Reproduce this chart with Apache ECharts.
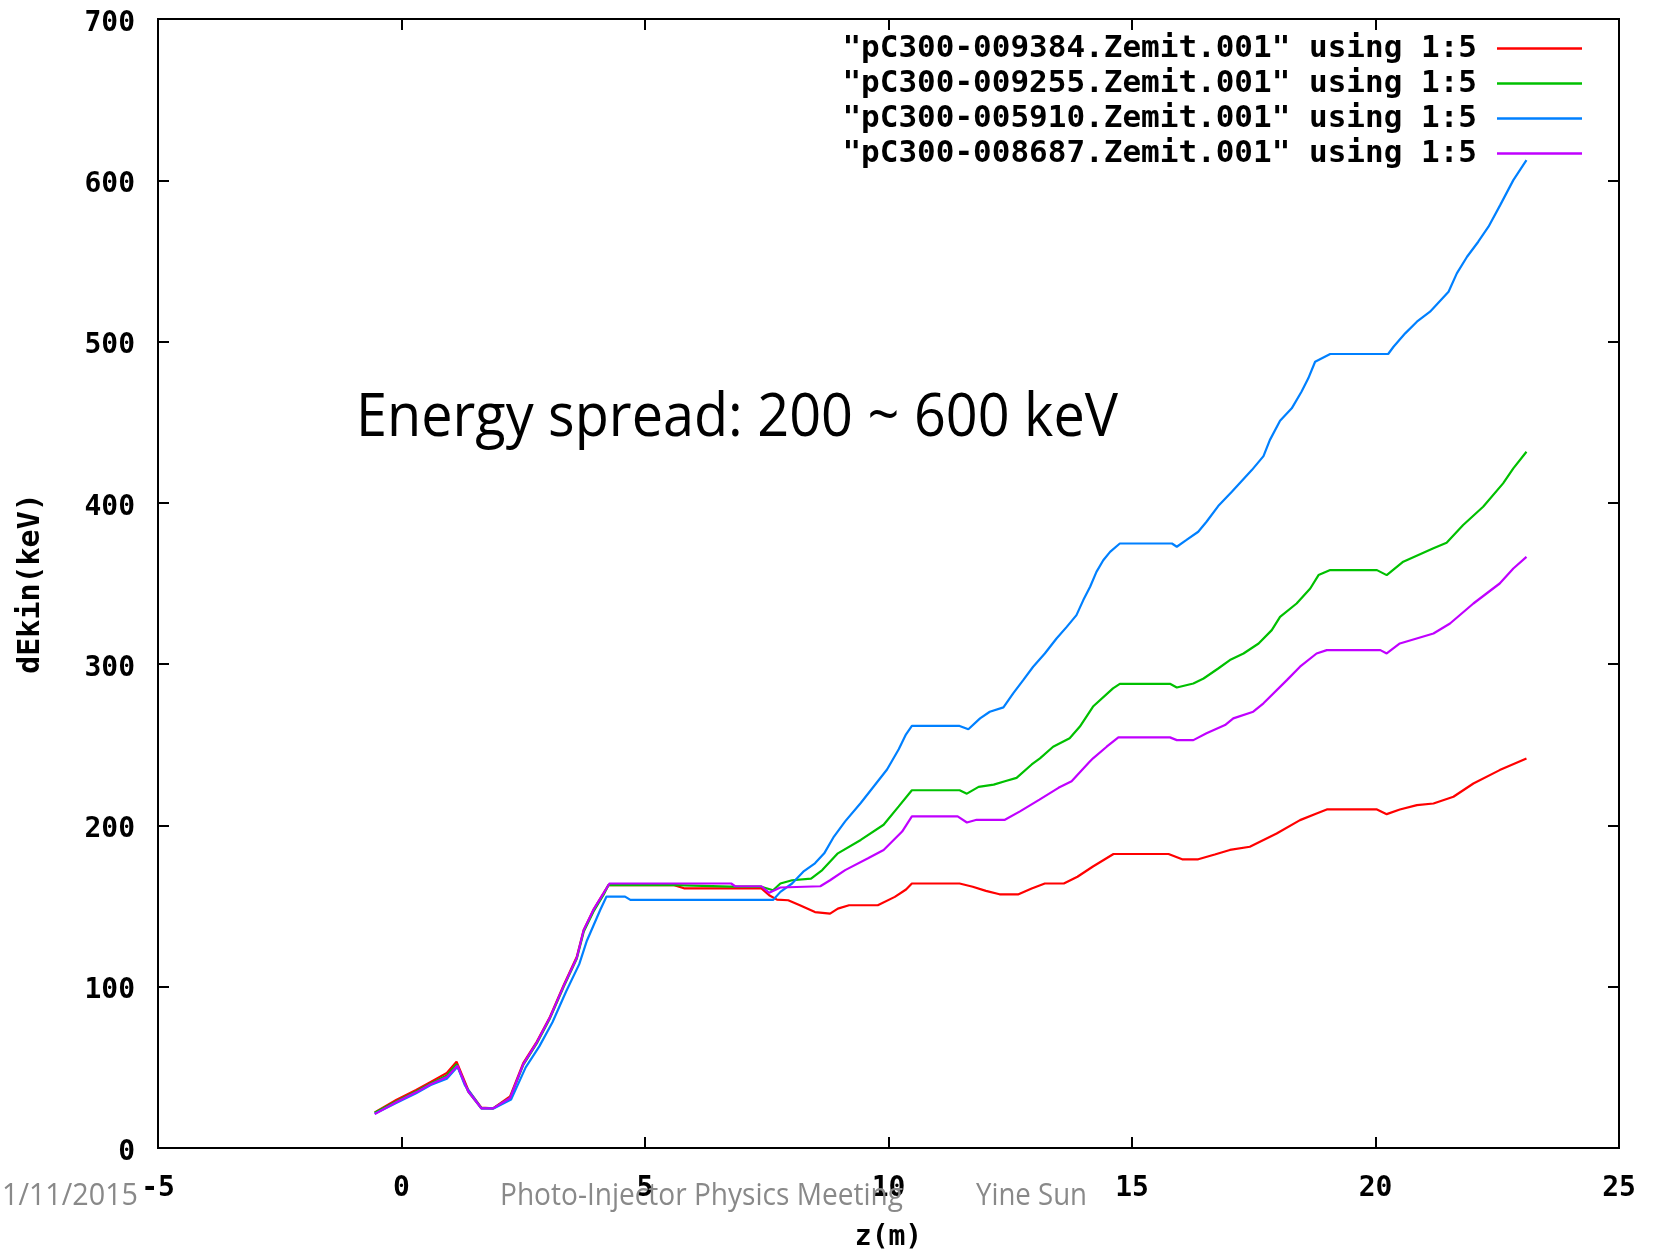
<!DOCTYPE html>
<html>
<head>
<meta charset="utf-8">
<script src="https://cdn.jsdelivr.net/npm/echarts@6/dist/echarts.min.js"></script>
<style>
html,body{margin:0;padding:0;background:#fff;}
#chart{width:1662px;height:1250px;}
</style>
</head>
<body>
<div id="chart"></div>
<script>
// ---- data (z in m, dEkin in keV) ----
const seriesNames = [
  '"pC300-009384.Zemit.001" using 1:5',
  '"pC300-009255.Zemit.001" using 1:5',
  '"pC300-005910.Zemit.001" using 1:5',
  '"pC300-008687.Zemit.001" using 1:5'
];
const seriesColors = ['#ff0000', '#00c000', '#0080ff', '#c000ff'];

const zRed = [-0.55,-0.1,0.3,0.6,0.93,1.13,1.37,1.64,1.88,2.23,2.5,2.78,3.05,3.33,3.6,3.74,3.94,4.15,4.25,5.6,5.8,7.39,7.55,7.71,7.94,8.18,8.49,8.8,8.96,9.19,9.78,10.13,10.36,10.48,11.46,11.73,12.0,12.28,12.67,12.94,13.21,13.6,13.88,14.19,14.62,15.75,16.03,16.36,16.7,17.01,17.42,17.97,18.45,18.79,19.0,20.03,20.23,20.5,20.85,21.19,21.6,22.01,22.55,23.1];
const dRed = [22,30,36,41,46.5,53.5,36,25,24.6,32,52.6,66,81.4,101,118.6,135,147.6,158,163,163,161,161,156.7,154,153.6,150.5,146.3,145.3,148.4,150.5,150.5,155.7,160.3,164,164,162,159.4,157.3,157.3,160.9,164,164,168.2,174.4,182.3,182.3,179,179,182,184.8,186.8,195,203.3,207.4,209.9,209.9,207,209.9,212.6,213.6,217.8,226,234.3,241.5];

const zGreen = [-0.55,-0.1,0.3,0.6,0.93,1.13,1.37,1.64,1.88,2.23,2.5,2.78,3.05,3.33,3.6,3.74,3.94,4.15,4.25,5.6,6.77,7.39,7.63,7.78,8.02,8.41,8.64,8.96,9.43,9.9,10.21,10.48,11.46,11.61,11.85,12.16,12.39,12.63,12.94,13.11,13.38,13.72,13.93,14.2,14.61,14.75,15.78,15.92,16.26,16.47,16.77,17.01,17.29,17.6,17.87,18.04,18.38,18.66,18.83,19.07,20.03,20.23,20.57,21.19,21.46,21.8,22.21,22.62,22.83,23.1];
const dGreen = [21.8,29,35,40,45,52,35,24.6,24.6,31,51.5,65,80.5,100,117.5,134,146.5,157,163,163,162,162,159.8,164,166,167,172.3,182.7,191,200.4,211.8,221.8,221.8,219.7,223.9,225.3,227.4,229.5,237.8,241.6,248.8,254,261.3,273.7,285,287.8,287.8,285.5,288,291.1,297.3,302.5,306.6,312.8,321.1,329.3,337.6,346.9,355.2,358.3,358.3,355.2,363.5,371.8,375.3,386.3,397.6,412.1,421.4,431.7];

const zBlue = [-0.55,-0.1,0.3,0.6,0.93,1.15,1.3,1.64,1.9,2.25,2.55,2.83,3.1,3.38,3.65,3.8,4.08,4.21,4.59,4.7,7.63,7.78,8.02,8.25,8.49,8.68,8.88,9.11,9.43,9.7,9.97,10.21,10.36,10.48,11.46,11.64,11.88,12.08,12.36,12.56,12.77,12.97,13.21,13.45,13.66,13.86,14.0,14.14,14.27,14.41,14.55,14.75,15.82,15.92,16.12,16.36,16.53,16.77,17.05,17.46,17.7,17.83,18.04,18.28,18.48,18.62,18.76,19.07,20.26,20.37,20.61,20.85,21.12,21.5,21.67,21.88,22.11,22.32,22.56,22.83,23.1];
const dBlue = [21.3,28,34,39,43,50.4,39,24.6,24.6,30,50,63,78,97,114,128,147.6,155.9,155.9,153.8,153.8,158.8,164,171.3,176.5,182.7,193.1,202.5,213.9,224.3,234.7,247.2,256.5,261.7,261.7,259.6,266.4,270.5,273.2,281.9,290.2,298.4,306.6,315.9,323.1,330.4,339.7,348,357.2,364.4,369.6,374.8,374.8,372.8,377,382.1,388.3,398,406.9,420.3,429,438.9,450.9,458.6,468.9,477.2,487.5,492.3,492.3,496.8,505.1,512.3,518.5,530.9,542.3,552.6,561.9,571.2,584.6,600.1,612.5];

const zPurple = [-0.55,-0.1,0.3,0.6,0.93,1.15,1.37,1.64,1.88,2.23,2.5,2.78,3.05,3.33,3.6,3.74,3.94,4.15,4.27,6.77,6.85,7.39,7.55,7.78,8.6,8.8,9.11,9.58,9.9,10.28,10.48,11.42,11.61,11.81,12.39,12.7,13.1,13.49,13.76,14.11,14.2,14.48,14.72,15.78,15.92,16.26,16.53,16.91,17.08,17.49,17.7,18.18,18.45,18.79,19.0,20.1,20.23,20.5,21.19,21.53,22.01,22.28,22.55,22.83,23.1];
const dPurple = [21,28.5,34.5,39.5,44,51,35,24.6,24.6,31,52,65.5,81,100.5,118,135,147.6,158,164,164,162.3,162.3,158.2,161.5,162.3,166,172.3,179.6,184.8,196.2,205.6,205.6,201.8,203.5,203.5,208.7,216,223.3,227.4,238.8,241.6,248.8,254.6,254.6,252.9,252.9,257.1,262.2,266.4,270.5,275.7,290.1,298.4,306.6,308.7,308.7,306.6,312.8,319,325.2,337.6,343.8,350,359.3,366.5];

const xMin = -5, xMax = 25, xStep = 5;
const yMin = 0, yMax = 700, yStep = 100;

const annotation = 'Energy spread: 200 ~ 600 keV';
const footerDate = '1/11/2015';
const footerTitle = 'Photo-Injector Physics Meeting';
const footerAuthor = 'Yine Sun';

// ---- build ----
const zs = [zRed, zGreen, zBlue, zPurple];
const ds = [dRed, dGreen, dBlue, dPurple];

const mono = '"DejaVu Sans Mono", monospace';

function fitScale(text, font, target) {
  const c = document.createElement('canvas').getContext('2d');
  c.font = font;
  return target / c.measureText(text).width;
}

const chart = echarts.init(document.getElementById('chart'), null, {renderer: 'canvas'});

const series = zs.map((z, i) => ({
  name: seriesNames[i],
  type: 'line',
  xAxisIndex: 0,
  yAxisIndex: 0,
  symbol: 'none',
  smooth: false,
  animation: false,
  lineStyle: {color: seriesColors[i], width: 2.2},
  itemStyle: {color: seriesColors[i]},
  data: z.map((v, k) => [v, ds[i][k]])
}));

const tickStyle = {show: true, inside: true, length: 11, lineStyle: {color: '#000', width: 2}};
const axisLineStyle = {show: true, onZero: false, lineStyle: {color: '#000', width: 2}};
const labelFont = {fontFamily: mono, fontWeight: 'bold', fontSize: 28, color: '#000'};

const annFont = 'normal 60px "Open Sans"';
const footFont = 'normal 31px "Open Sans"';

const option = {
  backgroundColor: '#fff',
  animation: false,
  grid: {left: 158, right: 43, top: 19, bottom: 102, containLabel: false, outerBoundsMode: 'none',
         show: true, borderColor: '#000', borderWidth: 2, backgroundColor: 'transparent'},
  legend: {
    data: seriesNames,
    orient: 'vertical',
    align: 'right',
    right: 75,
    top: 28,
    icon: 'rect',
    itemWidth: 85,
    itemHeight: 2.5,
    itemGap: 4,
    selectedMode: false,
    textStyle: {fontFamily: mono, fontWeight: 'bold', fontSize: 31, color: '#000', lineHeight: 30, padding: [0, 15, 0, 0]}
  },
  xAxis: [
    {type: 'value', min: xMin, max: xMax, interval: xStep, position: 'bottom',
     axisLine: axisLineStyle,
     axisTick: tickStyle, splitLine: {show: false},
     axisLabel: Object.assign({margin: 27}, labelFont),
     name: 'z(m)', nameLocation: 'middle', nameGap: 76,
     nameTextStyle: {fontFamily: mono, fontWeight: 'bold', fontSize: 28, color: '#000', verticalAlign: 'top'}},
    {type: 'value', min: xMin, max: xMax, interval: xStep, position: 'top',
     axisLine: axisLineStyle,
     axisTick: tickStyle, splitLine: {show: false}, axisLabel: {show: false}}
  ],
  yAxis: [
    {type: 'value', min: yMin, max: yMax, interval: yStep, position: 'left',
     axisLine: axisLineStyle,
     axisTick: tickStyle, splitLine: {show: false},
     axisLabel: Object.assign({margin: 23,
       formatter: v => '{t|' + v + '}',
       rich: {t: {fontFamily: mono, fontWeight: 'bold', fontSize: 28, color: '#000', padding: [9, 0, 0, 0]}}
     }, labelFont),
     name: 'dEkin(keV)', nameLocation: 'middle', nameGap: 112, nameRotate: 90,
     nameTextStyle: {fontFamily: mono, fontWeight: 'bold', fontSize: 30, color: '#000'}},
    {type: 'value', min: yMin, max: yMax, interval: yStep, position: 'right',
     axisLine: axisLineStyle,
     axisTick: tickStyle, splitLine: {show: false}, axisLabel: {show: false}}
  ],
  series: series,
  graphic: [
    {type: 'text', x: 356, y: 419, scaleX: fitScale(annotation, annFont, 762), z: 100,
     style: {text: annotation, font: annFont, fill: '#000', align: 'left', verticalAlign: 'middle'}},
    {type: 'text', x: 2, y: 1196, scaleX: fitScale(footerDate, footFont, 136), z: 100,
     style: {text: footerDate, font: footFont, fill: '#898989', align: 'left', verticalAlign: 'middle'}},
    {type: 'text', x: 500, y: 1196, scaleX: fitScale(footerTitle, footFont, 403), z: 100,
     style: {text: footerTitle, font: footFont, fill: '#898989', align: 'left', verticalAlign: 'middle'}},
    {type: 'text', x: 976, y: 1196, scaleX: fitScale(footerAuthor, footFont, 111), z: 100,
     style: {text: footerAuthor, font: footFont, fill: '#898989', align: 'left', verticalAlign: 'middle'}}
  ]
};
chart.setOption(option);
</script>
</body>
</html>
